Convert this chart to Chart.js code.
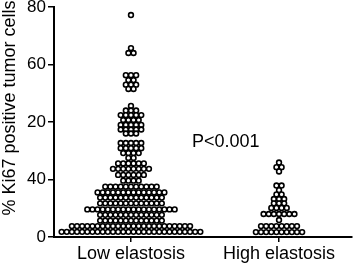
<!DOCTYPE html>
<html>
<head>
<meta charset="utf-8">
<script src="https://cdn.jsdelivr.net/npm/chart.js@4"></script>
<style>
  html, body { margin: 0; padding: 0; background: #fff; }
  #wrap { width: 356px; height: 267px; }
</style>
</head>
<body>
<div id="wrap"><canvas id="ki67Chart"></canvas></div>
<script>
// Categories and tick labels (y labels read as printed on the figure)
const groups = ['Low elastosis', 'High elastosis'];
const yTicks = [0, 20, 40, 60, 80];
const yTickLabels = ['0', '40', '20', '60', '80'];
const yTitle = '% Ki67 positive tumor cells';
const pValue = 'P<0.001';

// Dot rows of the swarm: value of each row and how many dots sit in it
const lowRows = [77.2, 65.7, 64.0, 56.3, 54.6, 53.0, 51.5, 45.6, 44.0, 42.4, 40.7, 39.0,
  37.4, 36.0, 32.7, 30.9, 29.2, 27.5, 25.6, 23.7, 21.6, 19.6, 17.5, 15.5, 13.7, 11.7,
  9.6, 7.7, 5.7, 3.8, 1.8];
const lowCounts = [1, 1, 2, 3, 2, 3, 2, 1, 3, 5, 4, 5,
  5, 3, 5, 5, 4, 2, 6, 8, 6, 4, 11, 14, 13, 13,
  18, 13, 13, 24, 28];
const highRows = [25.9, 24.3, 22.8, 17.9, 16.3, 14.8, 13.2, 11.7, 10.1, 8.0, 5.9, 3.8, 1.7];
const highCounts = [1, 2, 1, 2, 1, 2, 3, 3, 4, 7, 1, 8, 10];

const FONT = '"Liberation Sans", Arial, sans-serif';
const DOT_STEP = 0.0347; // horizontal spacing between neighbouring dots (x units)

// spread each row of dots symmetrically around the group centre
function swarm(groupIndex, rows, counts) {
  const points = [];
  rows.forEach((v, r) => {
    const n = counts[r];
    for (let i = 0; i < n; i++) {
      points.push({ x: groupIndex + (i - (n - 1) / 2) * DOT_STEP, y: v });
    }
  });
  return points;
}

// y title and p value label
const textLabels = {
  id: 'textLabels',
  afterDraw(chart) {
    const { ctx, scales } = chart;
    ctx.save();
    ctx.fillStyle = '#000';
    ctx.font = '18px ' + FONT;
    ctx.textAlign = 'center';
    ctx.textBaseline = 'middle';
    ctx.fillText(pValue, scales.x.getPixelForValue(0.64), scales.y.getPixelForValue(33));
    ctx.translate(10, 108);
    ctx.rotate(-Math.PI / 2);
    ctx.fillText(yTitle, 0, 0);
    ctx.restore();
  }
};

function initializeKi67Chart() {
  const ctx = document.getElementById('ki67Chart');
  if (!ctx) return;

  const dotStyle = {
    pointRadius: 2.4,
    pointBorderWidth: 1.6,
    borderColor: '#000',
    backgroundColor: '#fff',
    pointHoverRadius: 2.4
  };

  new Chart(ctx, {
    type: 'scatter',
    data: {
      datasets: [
        { label: groups[0], data: swarm(0, lowRows, lowCounts), ...dotStyle },
        { label: groups[1], data: swarm(1, highRows, highCounts), ...dotStyle }
      ]
    },
    options: {
      responsive: true,
      maintainAspectRatio: false,
      animation: false,
      layout: { padding: { top: 7, right: 0, bottom: 0, left: 0 } },
      plugins: {
        legend: { display: false },
        tooltip: { enabled: false }
      },
      scales: {
        x: {
          type: 'linear',
          min: -0.52,
          max: 1.493,
          afterBuildTicks: s => { s.ticks = groups.map((g, i) => ({ value: i })); },
          afterFit: s => { s.height = 30; },
          ticks: {
            callback: (v, i) => groups[i],
            font: { family: FONT, size: 18 },
            color: '#000',
            padding: 1,
            maxRotation: 0,
            autoSkip: false
          },
          grid: { drawOnChartArea: false, tickLength: 5, color: '#000', lineWidth: 1.5 },
          border: { color: '#000', width: 2 }
        },
        y: {
          min: 0,
          max: 80,
          afterBuildTicks: s => { s.ticks = yTicks.map(v => ({ value: v })); },
          afterFit: s => { s.width = 54; s.paddingTop = 0; s.paddingBottom = 0; },
          ticks: {
            callback: (v, i) => yTickLabels[i],
            font: { family: FONT, size: 17 },
            color: '#000',
            padding: 2
          },
          grid: { drawOnChartArea: false, tickLength: 6, color: '#000', lineWidth: 1.5 },
          border: { color: '#000', width: 2 }
        }
      }
    },
    plugins: [textLabels]
  });
}

document.addEventListener('DOMContentLoaded', () => {
  initializeKi67Chart();
});
</script>
</body>
</html>
